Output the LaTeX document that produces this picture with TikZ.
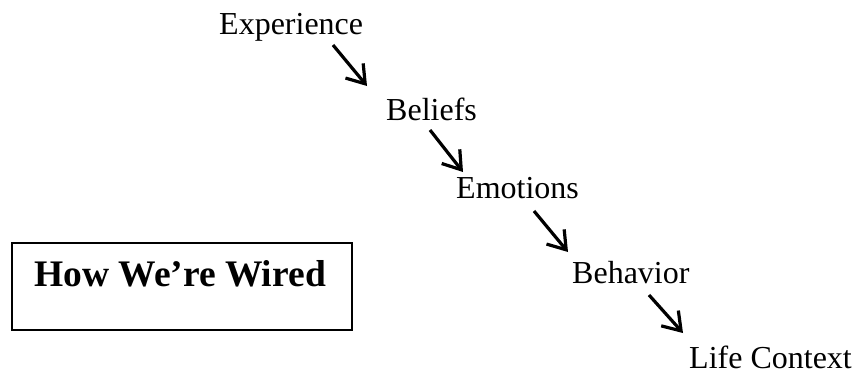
\documentclass[tikz,border=0pt]{standalone}
\usepackage{fontspec}
\setmainfont{Liberation Serif}
\usetikzlibrary{arrows.meta}
\begin{document}
\begin{tikzpicture}[x=1pt,y=-1pt,
  word/.style={anchor=base west, inner sep=0pt, font=\fontsize{32}{36}\selectfont},
  arr/.style={line width=3.2pt, -{Straight Barb[length=17pt,width=23pt,line width=3.2pt]}},
  titlebox/.style={draw, line width=1.8pt, minimum width=340pt, minimum height=87pt, inner sep=0pt}]
\useasboundingbox (0,0) rectangle (859,373);
\node[word] (exp) at (219,34) {Experience};
\node[word] (bel) at (386,120) {Beliefs};
\node[word] (emo) at (456,198) {Emotions};
\node[word] (beh) at (572,283) {Behavior};
\node[word] (life) at (689,368) {Life Context};
\draw[arr] ([shift={(114,11)}]exp.base west) -- ([shift={(-19,-34)}]bel.base west);
\draw[arr] ([shift={(44,10)}]bel.base west) -- ([shift={(7,-26)}]emo.base west);
\draw[arr] ([shift={(78,13)}]emo.base west) -- ([shift={(-4,-31)}]beh.base west);
\draw[arr] ([shift={(77,12)}]beh.base west) -- ([shift={(-6,-35)}]life.base west);
\node[titlebox] (box) at (182,286.5) {};
\node[anchor=base west, inner sep=0pt, font=\fontsize{37.5}{41}\selectfont\bfseries] (title) at (34,286) {How We’re Wired};
\end{tikzpicture}
\end{document}
